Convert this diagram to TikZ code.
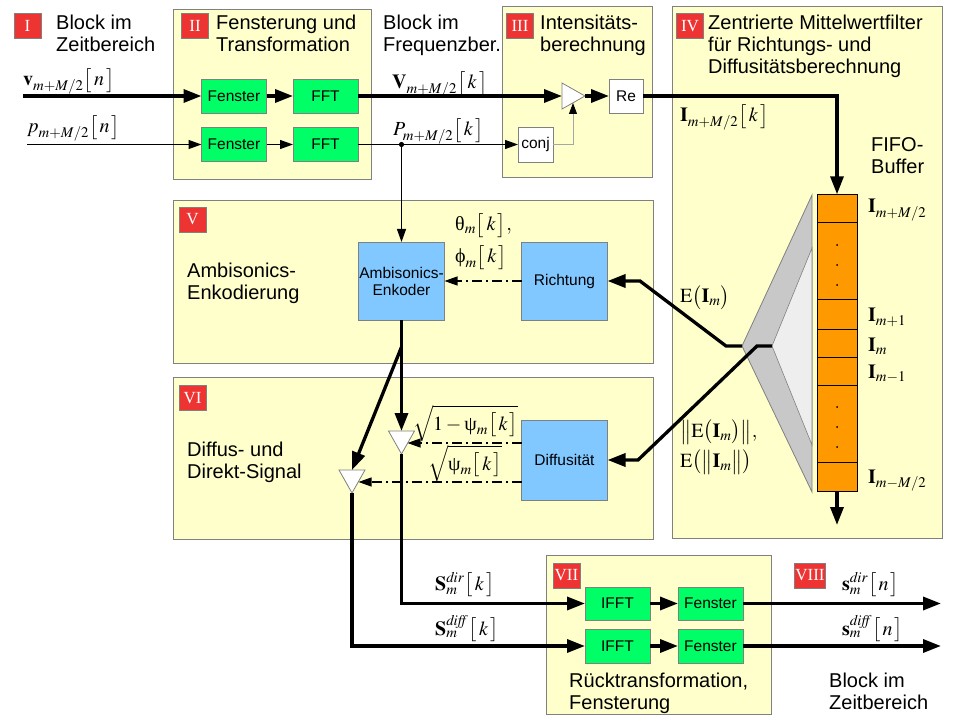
\documentclass[tikz,border=0pt]{standalone}
\usepackage{mathptmx}
\usepackage[no-math]{fontspec}
\setmainfont{Liberation Sans}
\newfontfamily\romfont{Liberation Serif}
\newcommand\ugr[1]{\mbox{\romfont #1}}
\newcommand\brk[1]{\bigl[\,#1\,\bigr]}
\usetikzlibrary{arrows.meta}
\definecolor{panelfill}{HTML}{FFFFCC}
\definecolor{panelline}{HTML}{808080}
\definecolor{boxgreen}{HTML}{00FF66}
\definecolor{boxblue}{HTML}{80C8FF}
\definecolor{fifoorange}{HTML}{FF9900}
\definecolor{labelred}{HTML}{EE3333}
\definecolor{funneldark}{HTML}{C8C8C8}
\definecolor{funnellight}{HTML}{EEEEEE}
\tikzset{
  panel/.style={fill=panelfill, draw=panelline, line width=1pt},
  blockbase/.style={draw=panelline, line width=0.8pt, inner sep=0pt, outer sep=0pt, align=center, font=\fontsize{15.5}{17}\selectfont},
  greenbox/.style={blockbase, fill=boxgreen, minimum width=65pt, minimum height=34pt},
  bluebox/.style={blockbase, fill=boxblue, minimum width=86pt, minimum height=78pt},
  whitebox/.style={blockbase, fill=white, minimum width=34pt, minimum height=34pt},
  fifocell/.style={draw=black, line width=1pt, fill=fifoorange, minimum width=40pt, inner sep=0pt, outer sep=0pt},
  numlabel/.style={fill=labelred, draw=panelline, line width=0.5pt, text=white, font=\romfont\fontsize{17}{17}\selectfont, minimum width=27pt, minimum height=25pt, inner sep=0pt},
  heading/.style={anchor=north west, inner sep=0pt, align=left, font=\fontsize{20}{22}\selectfont},
  mathlab/.style={anchor=base west, inner sep=0pt, font=\fontsize{20}{22}\selectfont},
  thicksig/.style={line width=3.3pt},
  thinsig/.style={line width=1.2pt},
  bigtip/.style={-{Triangle[length=18pt,width=13pt]}},
  smalltip/.style={-{Triangle[length=13pt,width=9pt]}},
  ctrl/.style={line width=1.2pt, dash pattern=on 10pt off 4pt on 2pt off 4pt, -{Triangle[length=13pt,width=9pt]}},
  tri/.style={draw=panelline, fill=white, line width=0.8pt}
}
\begin{document}
\begin{tikzpicture}[x=1pt,y=-1pt]
\useasboundingbox (0,0) rectangle (954,722);
% panels
\draw[panel] (173,10) rectangle (371,180);
\draw[panel] (502,7) rectangle (652,178);
\draw[panel] (672,7) rectangle (942,538);
\draw[panel] (173,201) rectangle (653,363);
\draw[panel] (173,377) rectangle (653,539);
\draw[panel] (546,555) rectangle (771,714);
% number labels
\node[numlabel] (nI) at (27.5,25.5) {I};
\node[numlabel] (nII) at (195,25.5) {II};
\node[numlabel] (nIII) at (520,26) {III};
\node[numlabel] (nIV) at (690,26) {IV};
\node[numlabel] (nV) at (192.5,219.5) {V};
\node[numlabel] (nVI) at (192.5,398) {VI};
\node[numlabel] (nVII) at (566.5,575.5) {VII};
\node[numlabel, minimum width=31pt] (nVIII) at (810,575.5) {VIII};
% headings
\node[heading] (hI) at (56,15) {Block im\\Zeitbereich};
\node[heading] (hII) at (216,15) {Fensterung und\\Transformation};
\node[heading] (hFreq) at (383,15) {Block im\\Frequenzber.};
\node[heading] (hIII) at (540,15) {Intensitäts-\\berechnung};
\node[heading] (hIV) at (708,15) {Zentrierte Mittelwertfilter\\für Richtungs- und\\Diffusitätsberechnung};
\node[heading] (hFIFO) at (871,137) {FIFO-\\Buffer};
\node[heading] (hV) at (187,263) {Ambisonics-\\Enkodierung};
\node[heading] (hVI) at (187,442) {Diffus- und\\Direkt-Signal};
\node[heading] (hVII) at (569,673) {Rücktransformation,\\Fensterung};
\node[heading] (hVIII) at (829,673) {Block im\\Zeitbereich};
% blocks
\node[greenbox] (fen1) at (234,96) {Fenster};
\node[greenbox] (fft1) at (325.5,96) {FFT};
\node[greenbox] (fen2) at (234,144.5) {Fenster};
\node[greenbox] (fft2) at (325.5,144.5) {FFT};
\node[whitebox] (re) at (626,96) {Re};
\node[whitebox, minimum width=35pt, minimum height=35pt] (conj) at (535.5,144.5) {conj};
\node[bluebox] (amb) at (401.5,281) {Ambisonics-\\Enkoder};
\node[bluebox] (richt) at (564.5,281) {Richtung};
\node[bluebox, minimum height=80pt] (diff) at (564.5,460) {Diffusität};
\node[greenbox, minimum height=33pt] (ifft1) at (617.5,603.5) {IFFT};
\node[greenbox] (ifft2) at (617.5,646) {IFFT};
\node[greenbox, minimum height=33pt] (fen3) at (710.5,603.5) {Fenster};
\node[greenbox] (fen4) at (710.5,646) {Fenster};
% multiplier
\draw[tri] (562,83) -- (585,96) -- (562,109) -- cycle;
\coordinate (mulL) at (562,96);
\coordinate (mulA) at (585,96);
\coordinate (mulB) at (573,103);
% gain triangles
\draw[tri] (388.5,431) -- (414.5,431) -- (401.5,454) -- cycle;
\coordinate (tri1top) at (401.5,431);
\coordinate (tri1apex) at (401.5,454);
\coordinate (tri1r) at (407.5,443);
\draw[tri] (339,470) -- (365,470) -- (352,493) -- cycle;
\coordinate (tri2top) at (352,470);
\coordinate (tri2apex) at (352,493);
\coordinate (tri2r) at (358.5,482);
% funnel
\draw[draw=panelline, line width=0.8pt, fill=funneldark] (742,346) -- (812,195) -- (812,492) -- cycle;
\draw[draw=panelline, line width=0.6pt, fill=funnellight] (772,346) -- (812,248) -- (812,445) -- cycle;
% FIFO
\node[fifocell, minimum height=28pt] (c1) at (837,208.3) {};
\node[fifocell, minimum height=77.7pt] (c2) at (837,261.15) {};
\node[fifocell, minimum height=29.3pt] (c3) at (837,314.65) {};
\node[fifocell, minimum height=28pt] (c4) at (837,343.3) {};
\node[fifocell, minimum height=27.7pt] (c5) at (837,371.15) {};
\node[fifocell, minimum height=77.3pt] (c6) at (837,423.65) {};
\node[fifocell, minimum height=28.7pt] (c7) at (837,476.65) {};
\foreach \yy in {245,265,285,407,427,447} \fill (837,\yy) circle (1pt);
% signal paths
\coordinate (vin) at (23,96);
\coordinate (pin) at (27,144.5);
\draw[thicksig, bigtip] (vin) -- (fen1.west);
\draw[thicksig, bigtip] (fen1) -- (fft1);
\draw[thicksig, bigtip] (fft1.east) -- (mulL);
\draw[thicksig, bigtip] (mulA) -- (re.west);
\draw[thicksig, bigtip] (re.east) -| (c1.north);
\draw[thinsig, smalltip] (pin) -- (fen2.west);
\draw[thinsig, smalltip] (fen2) -- (fft2);
\draw[thinsig, smalltip] (fft2.east) -- (conj.west);
\coordinate (junc) at (amb.north |- fft2.east);
\fill (junc) circle (2.6pt);
\draw[thinsig, smalltip] (junc) -- (amb.north);
\draw[line width=0.8pt, draw=gray!70, -{Triangle[length=11pt,width=8pt,color=black]}] (conj.east) -| (mulB);
% ambisonics split
\coordinate (split) at (401.5,347);
\draw[thicksig] (amb.south) -- (split);
\draw[thicksig, bigtip] (split) -- (tri1top);
\draw[thicksig, bigtip] (split) -- (tri2top);
% control signals
\draw[ctrl] (richt.west) -- (amb.east);
\draw[ctrl] (diff.west |- tri1r) -- (tri1r);
\draw[ctrl] (diff.west |- tri2r) -- (tri2r);
% funnel outputs
\coordinate (fA) at (742,346);
\coordinate (fA2) at (726,346);
\coordinate (fR) at (640,281);
\draw[thicksig, bigtip] (fA) -- (fA2) -- (fR) -- (richt.east);
\coordinate (fB) at (772,346);
\coordinate (fB2) at (757,346);
\coordinate (fD) at (638,460);
\draw[thicksig, bigtip] (fB) -- (fB2) -- (fD) -- (diff.east);
% FIFO out
\coordinate (fifoout) at (837,525);
\draw[thicksig, bigtip] (c7.south) -- (fifoout);
% synthesis
\draw[thicksig, bigtip] (tri1apex) |- (ifft1.west);
\draw[thicksig, bigtip] (tri2apex) |- (ifft2.west);
\draw[thicksig, bigtip] (ifft1) -- (fen3);
\draw[thicksig, bigtip] (ifft2) -- (fen4);
\coordinate (out1) at (941,603.5);
\coordinate (out2) at (941,646);
\draw[thicksig, bigtip] (fen3.east) -- (out1);
\draw[thicksig, bigtip] (fen4.east) -- (out2);
% math labels
\node[mathlab] (lv) at (23,86) {$\mathbf{v}_{m+M/2}\brk{n}$};
\node[mathlab] (lp) at (27,133) {$p_{m+M/2}\brk{n}$};
\node[mathlab] (lV) at (392,89) {$\mathbf{V}_{m+M/2}\brk{k}$};
\node[mathlab] (lP) at (393,136) {$P_{m+M/2}\brk{k}$};
\node[mathlab] (lI) at (680,122) {$\mathbf{I}_{m+M/2}\brk{k}$};
\node[mathlab] (lth) at (455,231) {$\ugr{θ}_m\brk{k},$};
\node[mathlab] (lph) at (455,263) {$\ugr{ϕ}_m\brk{k}$};
\node[mathlab] (lsq1) at (413,430) {$\sqrt{1-\ugr{ψ}_m\brk{k}}$};
\node[mathlab] (lsq2) at (428,470) {$\sqrt{\ugr{ψ}_m\brk{k}}$};
\node[mathlab] (lE) at (680,303) {$\mathrm{E}\bigl(\mathbf{I}_m\bigr)$};
\node[mathlab] (lnE) at (680,437) {$\bigl\|\mathrm{E}\bigl(\mathbf{I}_m\bigr)\bigr\|,$};
\node[mathlab] (lEn) at (680,467) {$\mathrm{E}\bigl(\bigl\|\mathbf{I}_m\bigr\|\bigr)$};
\node[mathlab] (lc1) at (868,213) {$\mathbf{I}_{m+M/2}$};
\node[mathlab] (lc3) at (868,322) {$\mathbf{I}_{m+1}$};
\node[mathlab] (lc4) at (868,352) {$\mathbf{I}_{m}$};
\node[mathlab] (lc5) at (868,378) {$\mathbf{I}_{m-1}$};
\node[mathlab] (lc7) at (868,483) {$\mathbf{I}_{m-M/2}$};
\node[mathlab] (lSd) at (435,590) {$\mathbf{S}_m^{\mathit{dir}}\brk{k}$};
\node[mathlab] (lSf) at (435,635) {$\mathbf{S}_m^{\mathit{diff}}\brk{k}$};
\node[mathlab] (lsd) at (842,590) {$\mathbf{s}_m^{\mathit{dir}}\brk{n}$};
\node[mathlab] (lsf) at (842,635) {$\mathbf{s}_m^{\mathit{diff}}\brk{n}$};
\end{tikzpicture}
\end{document}
